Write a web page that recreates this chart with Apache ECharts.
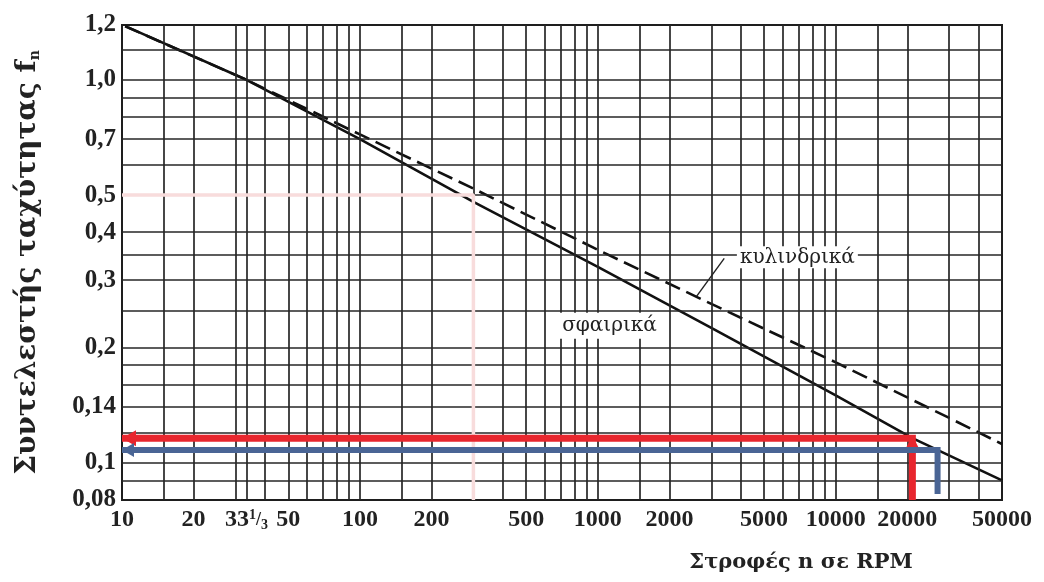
<!DOCTYPE html>
<html><head><meta charset="utf-8">
<script src="https://cdn.jsdelivr.net/npm/echarts@6/dist/echarts.min.js"></script>
<style>html,body{margin:0;padding:0;background:#fff}#c{width:1044px;height:582px}</style>
</head><body><div id="c"></div>
<script>
// ---- data ----
const xTickValues = [10, 20, 33.333, 50, 100, 200, 500, 1000, 2000, 5000, 10000, 20000, 50000];
const xTickLabels = ['10', '20', '33{sup|1}{sl|/}{sub|3}', '50', '100', '200', '500', '1000', '2000', '5000', '10000', '20000', '50000'];
const yTickValues = [0.08, 0.1, 0.14, 0.2, 0.3, 0.4, 0.5, 0.7, 1.0, 1.39];
const yTickLabels = ['0,08', '0,1', '0,14', '0,2', '0,3', '0,4', '0,5', '0,7', '1,0', '1,2'];
const xGridValues = [15, 20, 30, 33.333, 40, 50, 60, 70, 80, 90, 100, 150, 200, 300, 400, 500, 600, 700, 800, 900,
  1000, 1500, 2000, 3000, 4000, 5000, 6000, 7000, 8000, 9000, 10000, 15000, 20000, 30000, 40000];
const yGridValues = [0.09, 0.1, 0.12, 0.14, 0.16, 0.18, 0.2, 0.25, 0.3, 0.35, 0.4, 0.5, 0.6, 0.7, 0.8, 0.9, 1.0, 1.2];
const ballRpm    = [10.6, 33.333, 100, 300, 1000, 3000, 10000, 21000, 50000];
const ballFactor = [1.37, 1.0, 0.70, 0.48, 0.325, 0.225, 0.150, 0.116, 0.090];
const rollerRpm    = [10.3, 33.333, 100, 300, 1000, 3000, 10000, 30000, 50000];
const rollerFactor = [1.38, 1.0, 0.72, 0.52, 0.36, 0.26, 0.183, 0.131, 0.112];
const redPath   = [[21000, 0.08], [21000, 0.116], [10, 0.116]];
const bluePath  = [[26800, 0.083], [26800, 0.108], [10, 0.108]];
const guidePath = [[10, 0.5], [300, 0.5], [300, 0.08]];
const rollerLabelAt = [6900, 0.344];
const rollerLeader  = [[3400, 0.342], [2600, 0.272]];
const ballLabelAt   = [1120, 0.228];
const xMin = 10, xMax = 50000, yMin = 0.08, yMax = 1.39;

// ---- chart ----
const FONT = '"Liberation Serif", "Times New Roman", serif';
const WIDE = '"DejaVu Serif", "Liberation Serif", serif';
function findLabel(vals, labels, v) {
  const cands = [v, Math.pow(10, v)];
  for (const c of cands) {
    const i = vals.findIndex(t => Math.abs(t - c) / t < 2e-3);
    if (i >= 0) return labels[i];
  }
  return '';
}
const zip = (a, b) => a.map((v, i) => [v, b[i]]);
const gridColor = '#262626';

const chart = echarts.init(document.getElementById('c'));
chart.setOption({
  animation: false,
  backgroundColor: '#fff',
  grid: { left: 122, top: 25, right: 42, bottom: 82, show: true, borderColor: '#1e1e1e', borderWidth: 2, backgroundColor: '#fff' },
  xAxis: {
    type: 'log', logBase: 10, min: xMin, max: xMax,
    axisLine: { show: false }, axisTick: { show: false }, splitLine: { show: false }, minorSplitLine: { show: false },
    axisLabel: {
      customValues: xTickValues,
      formatter: v => findLabel(xTickValues, xTickLabels, v),
      fontFamily: FONT, fontWeight: 'bold', fontSize: 24, color: '#222', margin: 8,
      rich: {
        sup: { fontFamily: FONT, fontWeight: 'bold', fontSize: 14, color: '#222', verticalAlign: 'top', padding: [0, 0, 8, 0] },
        sl: { fontFamily: FONT, fontWeight: 'bold', fontSize: 18, color: '#222' },
        sub: { fontFamily: FONT, fontWeight: 'bold', fontSize: 14, color: '#222', verticalAlign: 'bottom', padding: [6, 0, 0, 0] }
      }
    },
    name: 'Στροφές n σε RPM', nameLocation: 'middle', nameGap: 52,
    nameTextStyle: { fontFamily: WIDE, fontWeight: 'bold', fontSize: 21, color: '#222', padding: [0, 0, 0, 478] }
  },
  yAxis: {
    type: 'log', logBase: 10, min: yMin, max: yMax,
    axisLine: { show: false }, axisTick: { show: false }, splitLine: { show: false }, minorSplitLine: { show: false },
    axisLabel: {
      customValues: yTickValues,
      formatter: v => findLabel(yTickValues, yTickLabels, v),
      fontFamily: FONT, fontWeight: 'bold', fontSize: 25, color: '#222', margin: 6
    },
    name: 'Συντελεστής ταχύτητας f{sub|n}', nameLocation: 'middle', nameRotate: 90, nameGap: 80,
    nameTextStyle: {
      fontFamily: WIDE, fontWeight: 'bold', fontSize: 28, color: '#222',
      rich: { sub: { fontFamily: WIDE, fontWeight: 'bold', fontSize: 14, color: '#222', verticalAlign: 'bottom', padding: [12, 0, 0, 0] } }
    }
  },
  series: [
    {
      name: 'grid', type: 'line', z: 1, data: [[xMin, yMin]], showSymbol: false, lineStyle: { width: 0 }, silent: true,
      markLine: {
        silent: true, symbol: ['none', 'none'], animation: false,
        label: { show: false },
        lineStyle: { type: 'solid', color: gridColor, width: 1.7 },
        emphasis: { disabled: true },
        data: [].concat(xGridValues.map(v => ({ xAxis: v })), yGridValues.map(v => ({ yAxis: v })))
      }
    },
    {
      name: 'guide', type: 'line', z: 5, data: guidePath, showSymbol: false, silent: true,
      lineStyle: { color: '#f8dcdc', width: 3.5 }
    },
    {
      name: 'σφαιρικά', type: 'line', z: 3, data: zip(ballRpm, ballFactor), showSymbol: false, smooth: false,
      lineStyle: { color: '#111', width: 2.6 },
      markPoint: {
        silent: true, symbol: 'rect', symbolSize: 1, itemStyle: { color: 'rgba(0,0,0,0)' },
        data: [{ coord: ballLabelAt, label: { show: true, position: 'inside', formatter: 'σφαιρικά',
          fontFamily: WIDE, fontSize: 20, color: '#222', backgroundColor: '#fff', padding: [3, 4] } }]
      }
    },
    {
      name: 'κυλινδρικά', type: 'line', z: 3, data: zip(rollerRpm, rollerFactor), showSymbol: false,
      lineStyle: { color: '#111', width: 2.6, type: [16, 7] },
      markPoint: {
        silent: true, symbol: 'rect', symbolSize: 1, itemStyle: { color: 'rgba(0,0,0,0)' },
        data: [{ coord: rollerLabelAt, label: { show: true, position: 'inside', formatter: 'κυλινδρικά',
          fontFamily: WIDE, fontSize: 20, color: '#222', backgroundColor: '#fff', padding: [1, 3] } }]
      },
      markLine: {
        silent: true, symbol: ['none', 'none'], label: { show: false },
        lineStyle: { type: 'solid', color: '#222', width: 1.4 },
        data: [[{ coord: rollerLeader[0] }, { coord: rollerLeader[1] }]]
      }
    },
    {
      name: 'red', type: 'line', z: 6, data: redPath, showSymbol: false, silent: true,
      lineStyle: { color: '#e8262e', width: 7, cap: 'butt', join: 'miter' },
      markPoint: {
        silent: true, symbol: 'triangle', itemStyle: { color: '#e8262e' }, label: { show: false },
        data: [
          { coord: redPath[2], symbolSize: [16, 14], symbolRotate: 90, symbolOffset: [7, 0] },
          { coord: redPath[1], symbolSize: [14, 14], symbolRotate: 0, symbolOffset: [0, 4] }
        ]
      }
    },
    {
      name: 'blue', type: 'line', z: 6, data: bluePath, showSymbol: false, silent: true,
      lineStyle: { color: '#4a6595', width: 6, cap: 'butt', join: 'miter' },
      markPoint: {
        silent: true, symbol: 'triangle', itemStyle: { color: '#4a6595' }, label: { show: false },
        data: [{ coord: bluePath[2], symbolSize: [14, 12], symbolRotate: 90, symbolOffset: [6, 0] }]
      }
    }
  ]
});
</script></body></html>
